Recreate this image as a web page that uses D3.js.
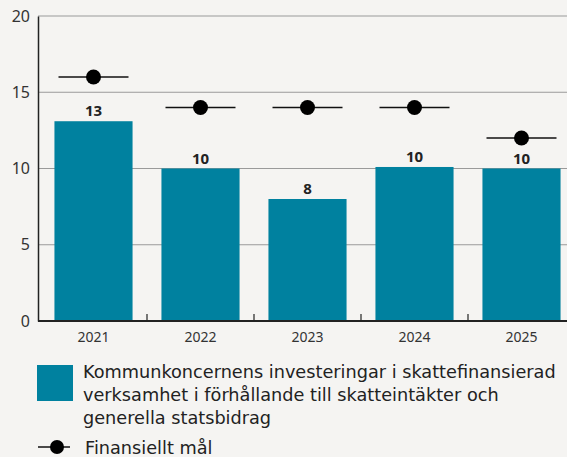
<!DOCTYPE html>
<html>
<head>
<meta charset="utf-8">
<script src="https://cdn.jsdelivr.net/npm/d3@7"></script>
<style>
  html, body { margin: 0; padding: 0; background: #f5f4f2; }
  svg { display: block; font-family: "Noto Sans", sans-serif; }
</style>
</head>
<body>
<div id="chart"></div>
<script>
const years = ["2021", "2022", "2023", "2024", "2025"];
const investments = [13.1, 10.0, 8.0, 10.1, 10.0];
const valueLabels = ["13", "10", "8", "10", "10"];
const targets = [16, 14, 14, 14, 12];
const yTicks = [0, 5, 10, 15, 20];
const legendBars = [
  "Kommunkoncernens investeringar i skattefinansierad",
  "verksamhet i förhållande till skatteintäkter och",
  "generella statsbidrag"
];
const legendTarget = "Finansiellt mål";

const width = 567, height = 457;
const teal = "#00819f";

const svg = d3.select("#chart").append("svg")
  .attr("width", width)
  .attr("height", height);

svg.append("rect").attr("width", width).attr("height", height).attr("fill", "#f5f4f2");

const x = d3.scaleBand()
  .domain(years)
  .range([40, 575])
  .paddingInner(0.27)
  .paddingOuter(0.135);

const y = d3.scaleLinear().domain([0, 20]).range([321, 16]);

// gridlines
svg.append("g")
  .selectAll("line")
  .data(yTicks.filter(d => d > 0))
  .join("line")
  .attr("x1", 38).attr("x2", width)
  .attr("y1", d => y(d)).attr("y2", d => y(d))
  .attr("stroke", "#9a9a9a")
  .attr("stroke-width", 1.2);

// bars
svg.append("g")
  .selectAll("rect")
  .data(years)
  .join("rect")
  .attr("x", d => x(d))
  .attr("width", x.bandwidth())
  .attr("y", (d, i) => y(investments[i]))
  .attr("height", (d, i) => y(0) - y(investments[i]))
  .attr("fill", teal);

// value labels
svg.append("g")
  .selectAll("text")
  .data(years)
  .join("text")
  .attr("x", d => x(d) + x.bandwidth() / 2)
  .attr("y", (d, i) => y(investments[i]) - 5)
  .attr("text-anchor", "middle")
  .attr("font-size", 15)
  .attr("font-weight", "bold")
  .attr("fill", "#222")
  .text((d, i) => valueLabels[i]);

// y axis
const yAxis = svg.append("g")
  .attr("transform", "translate(38,0)")
  .call(d3.axisLeft(y).tickValues(yTicks).tickSize(0).tickPadding(8));
yAxis.select(".domain").attr("stroke", "#222").attr("stroke-width", 1.5);
yAxis.selectAll("text")
  .attr("font-size", 16)
  .attr("fill", "#333")
  .attr("font-family", "Noto Sans, sans-serif");

// x axis
const xAxis = svg.append("g")
  .attr("transform", `translate(0,${y(0)})`)
  .call(d3.axisBottom(x).tickSize(0).tickPadding(11));
xAxis.select(".domain").attr("d", `M38,0H${width}`).attr("stroke", "#222").attr("stroke-width", 2);
xAxis.selectAll("text")
  .attr("font-size", 14)
  .attr("fill", "#333")
  .attr("font-family", "Noto Sans, sans-serif");

// separator ticks between categories
svg.append("g")
  .selectAll("line")
  .data(years.slice(1))
  .join("line")
  .attr("x1", d => x(d) - x.step() * x.paddingInner() / 2)
  .attr("x2", d => x(d) - x.step() * x.paddingInner() / 2)
  .attr("y1", y(0)).attr("y2", y(0) - 7)
  .attr("stroke", "#222")
  .attr("stroke-width", 1.2);

// financial targets
const tg = svg.append("g")
  .selectAll("g")
  .data(years)
  .join("g")
  .attr("transform", (d, i) => `translate(${x(d) + x.bandwidth() / 2},${y(targets[i])})`);
tg.append("line")
  .attr("x1", -35).attr("x2", 35)
  .attr("stroke", "#111")
  .attr("stroke-width", 1.5);
tg.append("circle").attr("r", 7.5).attr("fill", "#000");

// legend
const lg = svg.append("g").attr("font-family", "DejaVu Sans, sans-serif");
lg.append("rect")
  .attr("x", 37).attr("y", 365)
  .attr("width", 36).attr("height", 36)
  .attr("fill", teal);
lg.selectAll("text.lb")
  .data(legendBars)
  .join("text")
  .attr("class", "lb")
  .attr("x", 83)
  .attr("y", (d, i) => 378 + i * 23)
  .attr("font-size", 17.7)
  .attr("fill", "#222")
  .text(d => d);

lg.append("line")
  .attr("x1", 38).attr("x2", 70)
  .attr("y1", 447).attr("y2", 447)
  .attr("stroke", "#111").attr("stroke-width", 1.5);
lg.append("circle").attr("cx", 57).attr("cy", 447).attr("r", 7).attr("fill", "#000");
lg.append("text")
  .attr("x", 85).attr("y", 454)
  .attr("font-size", 17.7)
  .attr("fill", "#222")
  .text(legendTarget);
</script>
</body>
</html>
